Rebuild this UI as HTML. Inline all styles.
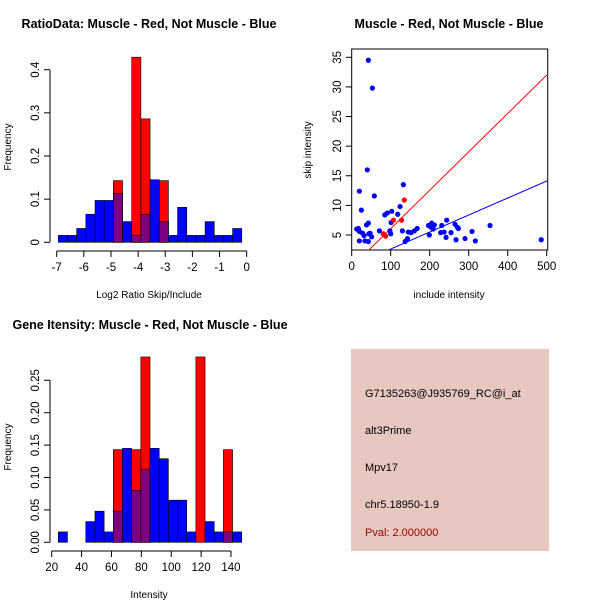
<!DOCTYPE html>
<html><head><meta charset="utf-8"><style>
body{margin:0;background:#fff}
svg{display:block;font-family:"Liberation Sans",sans-serif}
</style></head><body>
<svg id="c" width="600" height="600" viewBox="0 0 600 600">
<rect x="351" y="349" width="198" height="202" fill="#e6c8c0"/>
<g font-size="11" fill="#000">
<text x="365" y="397">G7135263@J935769_RC@i_at</text>
<text x="365" y="434">alt3Prime</text>
<text x="365" y="471">Mpv17</text>
<text x="365" y="508">chr5.18950-1.9</text>
<text x="365" y="536" fill="#a00000">Pval: 2.000000</text>
</g>
</svg>
<script>
// Histogram 1 data
const h1Start=-6.94, h1Width=0.338;
const h1Blue=[0.016,0.016,0.032,0.065,0.097,0.097,0.113,0.048,0.016,0.065,0.145,0.048,0.016,0.081,0.016,0.016,0.048,0.016,0.016,0.032];
const h1Red=[0,0,0,0,0,0,0.143,0,0.429,0.286,0,0.143,0,0,0,0,0,0,0,0];
const h1XTicks=[-7,-6,-5,-4,-3,-2,-1,0];
const h1YTicks=[0,0.1,0.2,0.3,0.4];
// Histogram 2 data
const h2Start=24.4, h2Width=6.14;
const h2Blue=[0.016,0,0,0.032,0.048,0.016,0.048,0.145,0.08,0.113,0.145,0.129,0.065,0.065,0.016,0,0.032,0.016,0.016,0.016];
const h2Red=[0,0,0,0,0,0,0.143,0,0.143,0.286,0,0,0,0,0,0.286,0,0,0.143,0];
const h2XTicks=[20,40,60,80,100,120,140];
const h2YTicks=[0,0.05,0.10,0.15,0.20,0.25];
const h2YLabels=["0.00","0.05","0.10","0.15","0.20","0.25"];
// Scatter data
const scBlueX=[42.7,53,40,19.7,24.8,58,17,19.7,12.8,28,31.6,38,42.7,47,51,44,19.7,34,42.7,71,85,91,102.6,100,101,98,118,124,132.5,130,137,143,145,152,160.7,168,199,197,205,209,203.4,212,228,231,237,242,243.6,254.7,265,271,273.5,267.5,290.6,308.5,317,354.7,486];
const scBlueY=[34.5,29.8,16,12.4,9.2,11.6,6.1,5.6,6,5.3,4.9,6.7,7,5.3,4.7,5.2,4,4,3.9,5.7,8.4,8.7,9,5.2,7.1,5.7,8.5,9.8,13.5,5.7,3.9,4.4,5.5,5.4,5.7,6.1,5,6.6,7,6,6.3,6.7,5.4,6.6,5.5,4.6,7.5,5.4,6.8,6.3,6.1,4.2,4.4,5.6,4,6.6,4.2];
const scRedX=[81,87,107,128,135];
const scRedY=[5.2,4.8,7.5,7.5,10.9];
const scRedLine=[-0.4,0.0648];
const scBlueLine=[-0.24,0.0287];
const scXTicks=[0,100,200,300,400,500];
const scYTicks=[5,10,15,20,25,30,35];

const NS="http://www.w3.org/2000/svg";
const svg=document.getElementById('c');
function mk(tag,attrs,parent){const e=document.createElementNS(NS,tag);for(const k in attrs)e.setAttribute(k,attrs[k]);(parent||svg).appendChild(e);return e;}
function txt(s,attrs,parent){const e=mk('text',attrs,parent);e.textContent=s;return e;}

function hist(o){
  const g=mk('g',{});
  
  
  const sx=v=>o.x0+(v-o.v0)*o.kx, sy=v=>o.y0-v*o.ky;
  for(let i=0;i<o.blue.length;i++){
    const a=sx(o.start+i*o.w), b=sx(o.start+(i+1)*o.w);
    const bl=o.blue[i], rd=o.red[i];
    const draw=(v,col,nm)=>{if(v<=0)return;const r=mk('rect',{x:a,y:sy(v),width:b-a,height:sy(0)-sy(v),fill:col,stroke:'#000','stroke-width':0.6},g);
      
      };
    draw(bl,'#0000ff','bar-blue-'+i);
    draw(rd,'#ff0000','bar-red-'+i);
    if(bl>0&&rd>0)draw(Math.min(bl,rd),'#7f007f','bar-overlap-'+i);
  }
  const xa=o.xt[0], xb=o.xt[o.xt.length-1];
  mk('line',{x1:sx(xa),x2:sx(xb),y1:o.axY,y2:o.axY,stroke:'#000'},g);
  o.xt.forEach(t=>{mk('line',{x1:sx(t),x2:sx(t),y1:o.axY,y2:o.axY+6,stroke:'#000'},g);
    const l=txt(String(t),{x:sx(t),y:o.axY+20,'font-size':11.5,'text-anchor':'middle'},g);
    
    });
  mk('line',{x1:o.axX,x2:o.axX,y1:sy(o.yt[0]),y2:sy(o.yt[o.yt.length-1]),stroke:'#000'},g);
  o.yt.forEach((t,i)=>{mk('line',{x1:o.axX,x2:o.axX-6,y1:sy(t),y2:sy(t),stroke:'#000'},g);
    const yy=sy(t),xx=o.axX-11;
    const l=txt(o.yl?o.yl[i]:String(t),{x:xx,y:yy,'font-size':11.5,'text-anchor':'middle',transform:`rotate(-90 ${xx} ${yy})`},g);
    
    });
}
hist({name:'ratio-histogram',x0:56.7,v0:-7,kx:27.14,y0:242.3,ky:431.5,start:h1Start,w:h1Width,blue:h1Blue,red:h1Red,xt:h1XTicks,yt:h1YTicks,axY:251,axX:50});
hist({name:'intensity-histogram',x0:51.7,v0:20,kx:1.494,y0:542.3,ky:648,start:h2Start,w:h2Width,blue:h2Blue,red:h2Red,xt:h2XTicks,yt:h2YTicks,yl:h2YLabels,axY:551,axX:50});

const sg=mk('g',{});


const px=v=>351.7+v*0.39, py=v=>235-(v-5)*5.923;
const cl=mk('clipPath',{id:'cp'},sg);mk('rect',{x:351.7,y:49,width:196,height:201},cl);
mk('rect',{x:351.7,y:49,width:196,height:201,fill:'none',stroke:'#000'},sg);
const lr=mk('line',{x1:px(0),y1:py(scRedLine[0]),x2:px(520),y2:py(scRedLine[0]+scRedLine[1]*520),stroke:'#ff0000','clip-path':'url(#cp)'},sg);


const lb=mk('line',{x1:px(0),y1:py(scBlueLine[0]),x2:px(520),y2:py(scBlueLine[0]+scBlueLine[1]*520),stroke:'#0000ff','clip-path':'url(#cp)'},sg);


scBlueX.forEach((x,i)=>{const c=mk('circle',{cx:px(x),cy:py(scBlueY[i]),r:2.6,fill:'#0000ff'},sg);
  
  });
scRedX.forEach((x,i)=>{const c=mk('circle',{cx:px(x),cy:py(scRedY[i]),r:2.6,fill:'#ff0000'},sg);
  
  });
scXTicks.forEach(t=>{mk('line',{x1:px(t),x2:px(t),y1:250,y2:256,stroke:'#000'},sg);
  const l=txt(String(t),{x:px(t),y:270,'font-size':11.5,'text-anchor':'middle'},sg);
  
  });
scYTicks.forEach(t=>{mk('line',{x1:351.7,x2:345.7,y1:py(t),y2:py(t),stroke:'#000'},sg);
  const xx=341,yy=py(t);
  const l=txt(String(t),{x:xx,y:yy,'font-size':11.5,'text-anchor':'middle',transform:`rotate(-90 ${xx} ${yy})`},sg);
  
  });

function label(s,x,y,opts,name){const l=txt(s,Object.assign({x:x,y:y,'font-size':11,'text-anchor':'middle'},opts||{}));
  
  }
label('RatioData: Muscle - Red, Not Muscle - Blue',149,28,{'font-weight':'bold','font-size':12.5},'ratio-title');
label('Muscle - Red, Not Muscle - Blue',449,28,{'font-weight':'bold','font-size':12.5},'scatter-title');
label('Gene Itensity: Muscle - Red, Not Muscle - Blue',150,329,{'font-weight':'bold','font-size':12.5},'intensity-title');
label('Log2 Ratio Skip/Include',149,298,{'font-size':10},'ratio-x-title');
label('include intensity',449,298,{'font-size':10},'scatter-x-title');
label('Intensity',149,598,{'font-size':10},'intensity-x-title');
label('Frequency',11,147,{'font-size':10,transform:'rotate(-90 11 147)'},'ratio-y-title');
label('skip intensity',311,150,{'font-size':10,transform:'rotate(-90 311 150)'},'scatter-y-title');
label('Frequency',11,447,{'font-size':10,transform:'rotate(-90 11 447)'},'intensity-y-title');
</script>
</body></html>
